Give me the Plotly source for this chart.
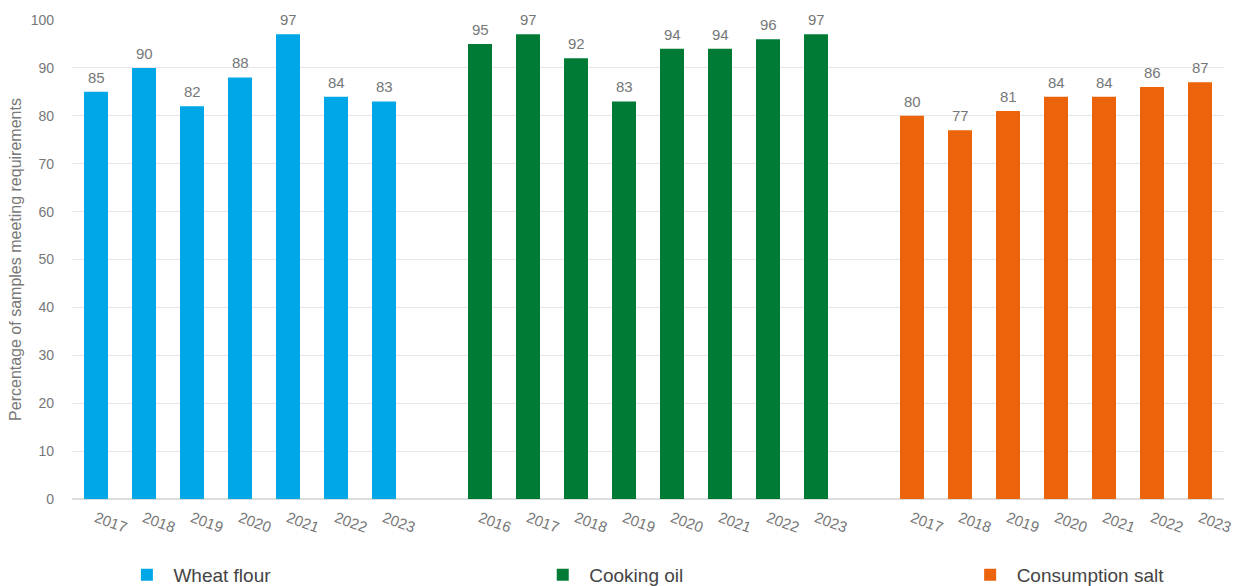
import plotly.graph_objects as go

# Share of samples meeting requirements, by product and year
wheat_years = ["2017", "2018", "2019", "2020", "2021", "2022", "2023"]
wheat_values = [85, 90, 82, 88, 97, 84, 83]

oil_years = ["2016", "2017", "2018", "2019", "2020", "2021", "2022", "2023"]
oil_values = [95, 97, 92, 83, 94, 94, 96, 97]

salt_years = ["2017", "2018", "2019", "2020", "2021", "2022", "2023"]
salt_values = [80, 77, 81, 84, 84, 86, 87]

series = [
    ("Wheat flour", wheat_years, wheat_values, "#00A7E7", "legend", 0.042),
    ("Cooking oil", oil_years, oil_values, "#007B36", "legend2", 0.403),
    ("Consumption salt", salt_years, salt_values, "#EB640B", "legend3", 0.774),
]

FONT = "Liberation Sans, Arial, sans-serif"
GREY = "#777777"

fig = go.Figure()
tickvals, ticktext = [], []
annotations = []
slot = 0
for name, years, values, color, legend_id, legend_x in series:
    xs = list(range(slot, slot + len(years)))
    slot += len(years) + 1  # one empty slot between product groups
    tickvals += xs
    ticktext += years
    fig.add_trace(go.Bar(
        x=xs, y=values, name=name, width=0.5,
        marker=dict(color=color, line=dict(width=0)),
        legend=legend_id, hoverinfo="skip",
    ))
    for x, v in zip(xs, values):
        annotations.append(dict(
            x=x, y=v, text=str(v), showarrow=False, yanchor="bottom",
            yshift=4, font=dict(family=FONT, size=15, color=GREY),
        ))

legend_common = dict(
    orientation="h", yref="container", y=0.019, yanchor="middle",
    xanchor="left",
    font=dict(family=FONT, size=19, color="#444444"),
    bgcolor="rgba(0,0,0,0)", itemwidth=43,
)
legends = {}
for name, years, values, color, legend_id, legend_x in series:
    legends[legend_id] = dict(legend_common, x=legend_x)

fig.update_layout(
    width=1243, height=586,
    margin=dict(l=71.5, r=19, t=20, b=87, autoexpand=False),
    paper_bgcolor="white", plot_bgcolor="white",
    showlegend=True,
    bargap=0.5,
    annotations=annotations,
    **legends,
    xaxis=dict(
        range=[-0.5, slot - 1.5],
        tickmode="array", tickvals=tickvals, ticktext=ticktext,
        tickangle=20, tickfont=dict(family=FONT, size=15, color=GREY),
        showgrid=False, zeroline=False, showline=False, ticks="",
        ticklabelstandoff=7, fixedrange=True,
    ),
    yaxis=dict(
        range=[0, 100], dtick=10,
        tickfont=dict(family=FONT, size=14, color=GREY),
        gridcolor="#E8E8E8", gridwidth=1,
        zeroline=True, zerolinecolor="#DCDCDC", zerolinewidth=2,
        showline=False, ticks="", ticklabelstandoff=17,
        title=dict(text="Percentage of samples meeting requirements",
                   font=dict(family=FONT, size=16, color=GREY), standoff=5),
        fixedrange=True,
    ),
)

fig.write_html("out.html", config={"displayModeBar": False})
